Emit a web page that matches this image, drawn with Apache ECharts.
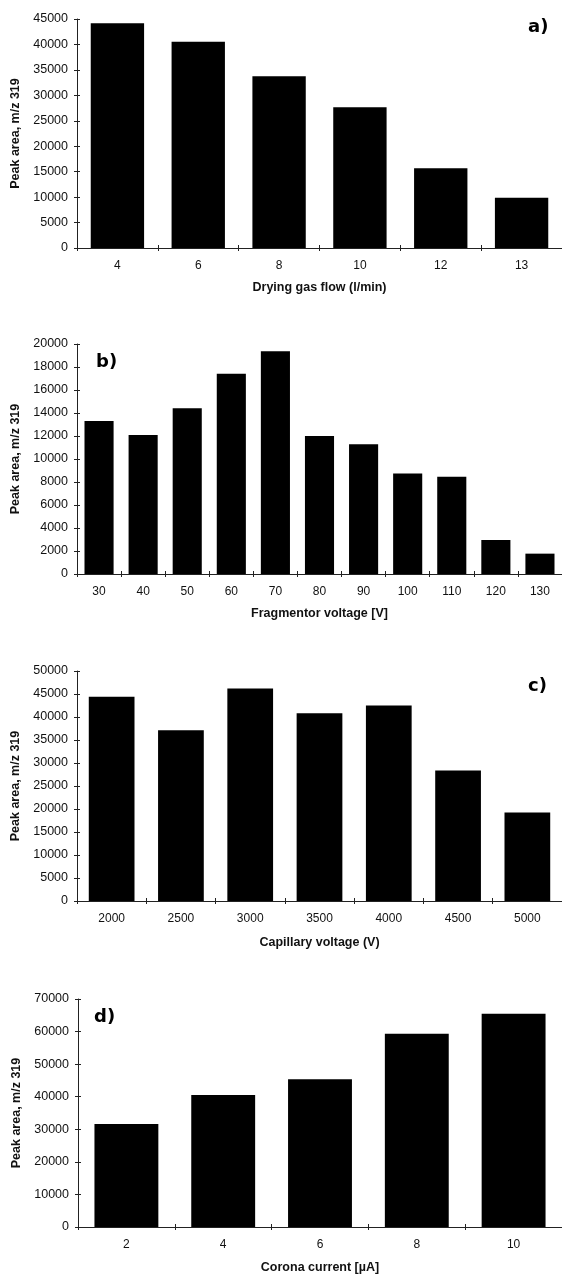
<!DOCTYPE html>
<html>
<head>
<meta charset="utf-8">
<script src="https://cdn.jsdelivr.net/npm/echarts@6/dist/echarts.min.js"></script>
<style>
  html, body { margin: 0; padding: 0; background: #fff; }
  #chart { width: 562px; height: 1275px; }
</style>
</head>
<body>
<div id="chart"></div>
<script>
// ---- data ----
const catsA = ['4', '6', '8', '10', '12', '13'];
const valsA = [44150, 40550, 33750, 27650, 15650, 9880];
const catsB = ['30', '40', '50', '60', '70', '80', '90', '100', '110', '120', '130'];
const valsB = [13300, 12080, 14420, 17410, 19360, 11990, 11290, 8740, 8450, 2960, 1770];
const catsC = ['2000', '2500', '3000', '3500', '4000', '4500', '5000'];
const valsC = [44420, 37120, 46170, 40810, 42480, 28370, 19250];
const catsD = ['2', '4', '6', '8', '10'];
const valsD = [31620, 40530, 45340, 59360, 65500];

const xNames = ['Drying gas flow (l/min)', 'Fragmentor voltage [V]', 'Capillary voltage (V)', 'Corona current [\u00b5A]'];
const yName = 'Peak area, m/z 319';
const yMax = [45000, 20000, 50000, 70000];
const yStep = [5000, 2000, 5000, 10000];
const panelLabels = ['a)', 'b)', 'c)', 'd)'];

// ---- layout ----
const grids = [
  { left: 77, top: 19, width: 487, height: 229 },
  { left: 77, top: 344, width: 487, height: 230 },
  { left: 77, top: 671, width: 487, height: 230 },
  { left: 78, top: 999, width: 487, height: 228 }
];
const nameGaps = [33, 33, 35, 34];
const labelPos = [[528, 18], [96, 353], [528, 677], [94, 1008]];

const cats = [catsA, catsB, catsC, catsD];
const vals = [valsA, valsB, valsC, valsD];

const axisCol = '#222';
const txt = { fontFamily: 'Liberation Sans, Arial, sans-serif', color: '#111' };

const xAxes = [], yAxes = [], series = [], graphics = [];
for (let i = 0; i < 4; i++) {
  xAxes.push({
    type: 'category', gridIndex: i, position: 'bottom', data: cats[i], boundaryGap: true,
    axisLine: { show: true, lineStyle: { color: axisCol, width: 1 } },
    axisTick: { show: true, length: 3, lineStyle: { color: axisCol } },
    axisLabel: Object.assign({ fontSize: 12, margin: 12 }, txt),
    name: xNames[i], nameLocation: 'middle', nameGap: nameGaps[i],
    nameTextStyle: Object.assign({ fontSize: 12.5, fontWeight: 'bold' }, txt)
  });
  xAxes.push({
    type: 'category', gridIndex: i, position: 'bottom', data: cats[i], boundaryGap: true,
    axisLine: { show: false, onZero: false },
    axisTick: { show: true, inside: true, length: 3, lineStyle: { color: axisCol } },
    axisLabel: { show: false }
  });
  yAxes.push({
    type: 'value', gridIndex: i, position: 'left', min: 0, max: yMax[i], interval: yStep[i],
    splitLine: { show: false },
    axisLine: { show: true, lineStyle: { color: axisCol, width: 1 } },
    axisTick: { show: true, length: 3, lineStyle: { color: axisCol } },
    axisLabel: Object.assign({ fontSize: 12.5, margin: 9, formatter: v => String(v) }, txt),
    name: yName, nameLocation: 'middle', nameRotate: 90, nameGap: 47,
    nameTextStyle: Object.assign({ fontSize: 12.5, fontWeight: 'bold' }, txt)
  });
  yAxes.push({
    type: 'value', gridIndex: i, position: 'left', min: 0, max: yMax[i], interval: yStep[i],
    splitLine: { show: false },
    axisLine: { show: false, onZero: false },
    axisTick: { show: true, inside: true, length: 3, lineStyle: { color: axisCol } },
    axisLabel: { show: false }
  });
  series.push({
    type: 'bar', xAxisIndex: 2 * i, yAxisIndex: 2 * i, data: vals[i],
    barCategoryGap: '34%',
    itemStyle: { color: '#000' },
    silent: true, animation: false
  });
  graphics.push({
    type: 'text', left: labelPos[i][0], top: labelPos[i][1],
    style: { text: panelLabels[i], fontSize: 18, fontWeight: 'bold', fontFamily: 'DejaVu Sans, sans-serif', fill: '#000' }
  });
}

const chart = echarts.init(document.getElementById('chart'), null, { renderer: 'canvas' });
chart.setOption({
  animation: false,
  backgroundColor: '#fff',
  grid: grids.map(g => Object.assign({ containLabel: false }, g)),
  xAxis: xAxes,
  yAxis: yAxes,
  series: series,
  graphic: graphics
});
</script>
</body>
</html>
